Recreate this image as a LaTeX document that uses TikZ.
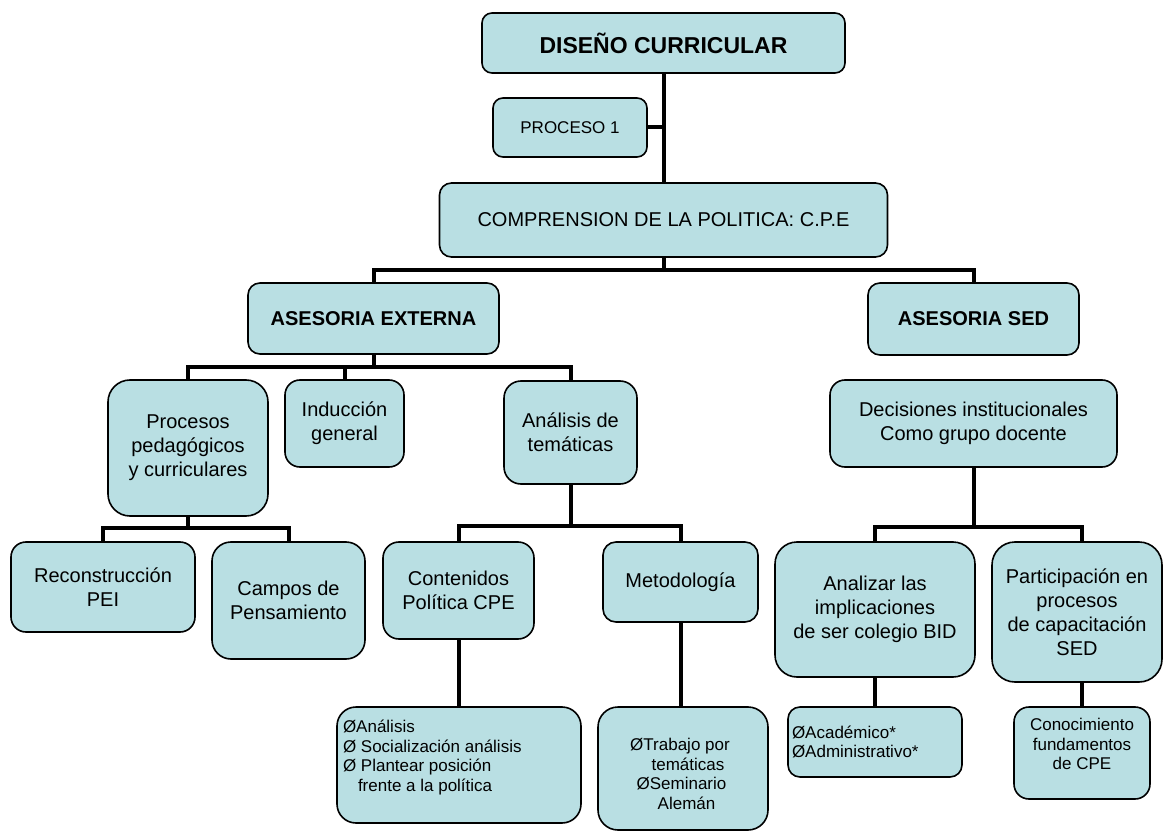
\documentclass[tikz,border=0pt]{standalone}
\usepackage{fontspec}
\setmainfont{Liberation Sans}
\usetikzlibrary{backgrounds}
\definecolor{boxfill}{RGB}{185,223,227}
\begin{document}
\begin{tikzpicture}[x=1pt,y=-1pt,
  bx/.style={draw=black, line width=1.6pt, fill=boxfill, align=center, inner sep=2pt,
             font=\fontsize{20}{24}\selectfont},
  small/.style={font=\fontsize{17}{19.5}\selectfont},
  ttl/.style={font=\bfseries\fontsize{20}{24}\selectfont},
  conn/.style={line width=4pt, draw=black},
]
\useasboundingbox (0,0) rectangle (1163,832);

% level 0
\node[bx, minimum width=363pt, minimum height=60pt, rounded corners=10pt,
      font=\bfseries\fontsize{23}{27}\selectfont] (dc) at (663.5,43) {DISEÑO CURRICULAR};
\node[bx, minimum width=154pt, minimum height=59pt, rounded corners=10pt,
      font=\fontsize{17}{20}\selectfont] (p1) at (570,127.5) {PROCESO 1};
\node[bx, minimum width=448pt, minimum height=74pt, rounded corners=12pt] (cpe) at (663.5,220) {COMPRENSION DE LA POLITICA: C.P.E};

% level 1
\node[bx, ttl, minimum width=251pt, minimum height=71pt, rounded corners=12pt] (ae) at (373.5,318.5) {ASESORIA EXTERNA};
\node[bx, ttl, minimum width=211pt, minimum height=72pt, rounded corners=12pt] (as) at (973.5,319) {ASESORIA SED};

% level 2
\node[bx, minimum width=160pt, minimum height=136pt, rounded corners=22pt] (proc) at (188,448) {Procesos\\pedagógicos\\y curriculares};
\node[bx, minimum width=119pt, minimum height=87pt, rounded corners=15pt] (ind) at (344.5,423.5) {Inducción\\general};
\node[bx, minimum width=133pt, minimum height=103pt, rounded corners=17pt] (anal) at (570.5,432.5) {Análisis de\\temáticas};
\node[bx, minimum width=287pt, minimum height=87pt, rounded corners=15pt] (dec) at (973.5,423.5) {Decisiones institucionales\\Como grupo docente};

% level 3
\node[bx, minimum width=184pt, minimum height=90pt, rounded corners=15pt] (rec) at (103,587) {Reconstrucción\\PEI};
\node[bx, minimum width=153pt, minimum height=117pt, rounded corners=19pt] (cam) at (288.5,600.5) {Campos de\\Pensamiento};
\node[bx, minimum width=151pt, minimum height=97pt, rounded corners=16pt] (cont) at (458.5,590.5) {Contenidos\\Política CPE};
\node[bx, minimum width=155pt, minimum height=80pt, rounded corners=13pt] (met) at (680.5,582) {Metodología};
\node[bx, minimum width=200pt, minimum height=135pt, rounded corners=22pt] (anz) at (875,609.5) {Analizar las\\implicaciones\\de ser colegio BID};
\node[bx, minimum width=170pt, minimum height=140pt, rounded corners=23pt] (par) at (1077,612) {Participación en\\procesos\\de capacitación\\SED};

% level 4
\node[bx, small, inner xsep=6pt, inner ysep=0pt, rounded corners=19pt] (list) at (459,765)
  {\parbox[c][116pt][t]{232pt}{\raggedright\vspace*{12pt}\strut ØAnálisis\\
   Ø Socialización análisis\\
   Ø Plantear posición\\
   \hspace*{15pt}frente a la política}};
\node[bx, small, inner xsep=0pt, inner ysep=0pt, rounded corners=20pt] (trab) at (683,768.5)
  {\parbox[c][123pt][t]{170pt}{\centering\vspace*{30pt}\strut\hspace*{-6pt}ØTrabajo por\\
   \hspace*{10pt}temáticas\\
   \hspace*{-3pt}ØSeminario\\
   \hspace*{7pt}Alemán}};
\node[bx, small, align=left, text width=166pt, inner xsep=4pt, minimum height=70pt, rounded corners=12pt] (acad) at (875,742)
  {ØAcadémico*\\ØAdministrativo*};
\node[bx, small, inner xsep=0pt, inner ysep=0pt, rounded corners=15pt] (con) at (1082,753)
  {\parbox[c][92pt][t]{136pt}{\centering\vspace*{10pt}\strut Conocimiento\\
   fundamentos\\
   de CPE}};

% connectors
\coordinate (j1) at (663.5,270);
\coordinate (j2) at (373.5,367);
\coordinate (j3) at (188,528);
\coordinate (j4) at (570.5,526);
\coordinate (j5) at (973.5,527);
\begin{scope}[on background layer]
\draw[conn] (dc.south) -- (cpe.north);
\draw[conn] (p1.east) -- (p1.east -| dc.south);
\draw[conn] (cpe.south) -- (j1);
\draw[conn] (ae.north) -- (ae.north |- j1) -- (as.north |- j1) -- (as.north);

\draw[conn] (ae.south) -- (j2);
\draw[conn] (proc.north) -- (proc.north |- j2) -- (anal.north |- j2) -- (anal.north);
\draw[conn] (ind.north |- j2) -- (ind.north);

\draw[conn] (proc.south) -- (j3);
\draw[conn] (rec.north) -- (rec.north |- j3) -- (cam.north |- j3) -- (cam.north);

\draw[conn] (anal.south) -- (j4);
\draw[conn] (cont.north) -- (cont.north |- j4) -- (met.north |- j4) -- (met.north);

\draw[conn] (dec.south) -- (j5);
\draw[conn] (anz.north) -- (anz.north |- j5) -- (con.north |- j5) -- (con.north |- par.north);

\draw[conn] (cont.south) -- (cont.south |- list.north);
\draw[conn] (met.south) -- (met.south |- trab.north);
\draw[conn] (anz.south) -- (anz.south |- acad.north);
\draw[conn] (con.north |- par.south) -- (con.north);
\end{scope}
\end{tikzpicture}
\end{document}
